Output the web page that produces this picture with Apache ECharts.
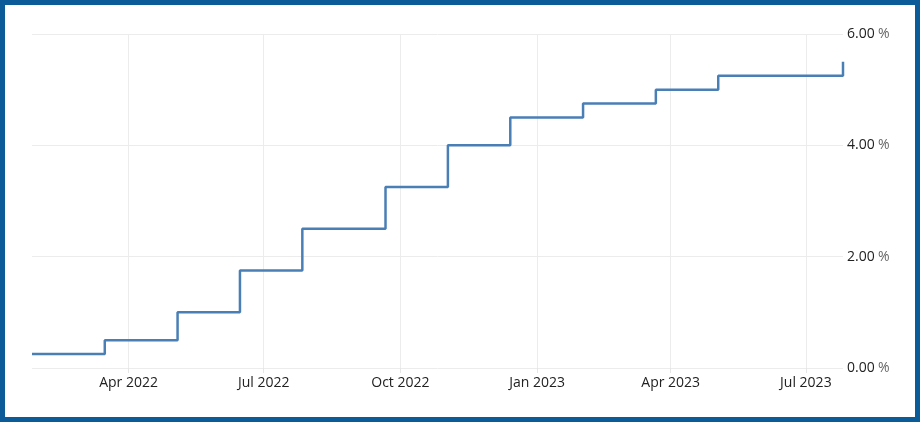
<!DOCTYPE html>
<html>
<head>
<meta charset="utf-8">
<script src="https://cdn.jsdelivr.net/npm/echarts@6/dist/echarts.min.js"></script>
<style>
html,body{margin:0;padding:0;background:#fff;}
#c{width:920px;height:422px;}
</style>
</head>
<body>
<div id="c"></div>
<script>
// Rate change dates and levels (%)
const dates = ['2022-01-26','2022-03-16','2022-05-04','2022-06-15','2022-07-27','2022-09-21','2022-11-02','2022-12-14','2023-02-01','2023-03-22','2023-05-03','2023-07-26'];
const rates = [0.25, 0.5, 1.0, 1.75, 2.5, 3.25, 4.0, 4.5, 4.75, 5.0, 5.25, 5.5];
const xTicks = ['2022-04-01','2022-07-01','2022-10-01','2023-01-01','2023-04-01','2023-07-01'];
const monthNames = ['Jan','Feb','Mar','Apr','May','Jun','Jul','Aug','Sep','Oct','Nov','Dec'];
const xMin = '2022-01-26';
const xMax = '2023-07-26';

const toTime = d => +new Date(d + 'T00:00:00Z');
const tickTimes = xTicks.map(toTime);
const seriesData = dates.map((d, i) => [toTime(d), rates[i]]);

const chart = echarts.init(document.getElementById('c'));
chart.setOption({
  animation: false,
  backgroundColor: '#fff',
  grid: {left: 32, right: 77, top: 34, bottom: 54, containLabel: false},
  xAxis: {
    type: 'value',
    min: toTime(xMin),
    max: toTime(xMax),
    axisLine: {show: false},
    axisTick: {show: true, customValues: tickTimes, length: 5, lineStyle: {color: '#e6e6e6'}},
    splitLine: {show: true, lineStyle: {color: '#ececec', width: 1}},
    axisLabel: {
      customValues: tickTimes,
      margin: 8,
      color: '#222',
      fontFamily: 'Open Sans',
      fontSize: 14,
      formatter: function (v) {
        const d = new Date(v);
        return monthNames[d.getUTCMonth()] + ' ' + d.getUTCFullYear();
      }
    }
  },
  yAxis: {
    type: 'value',
    position: 'right',
    min: 0, max: 6, interval: 2,
    axisLine: {show: false},
    axisTick: {show: false},
    splitLine: {show: true, lineStyle: {color: '#ececec', width: 1}},
    axisLabel: {
      margin: 4,
      formatter: function (v) { return '{a|' + v.toFixed(2) + '} {b|%}'; },
      rich: {
        a: {color: '#222', fontFamily: 'Open Sans', fontSize: 14},
        b: {color: '#666', fontFamily: 'Open Sans', fontSize: 14}
      }
    }
  },
  series: [{
    type: 'line',
    step: 'end',
    data: seriesData,
    showSymbol: false,
    symbol: 'none',
    lineStyle: {color: '#4a7fb6', width: 2.5},
    itemStyle: {color: '#4a7fb6'}
  }],
  graphic: [{
    type: 'rect',
    silent: true,
    z: 100,
    shape: {x: 2.5, y: 2.5, width: 915, height: 417},
    style: {fill: 'none', stroke: '#0b5b98', lineWidth: 5}
  }]
});
</script>
</body>
</html>
